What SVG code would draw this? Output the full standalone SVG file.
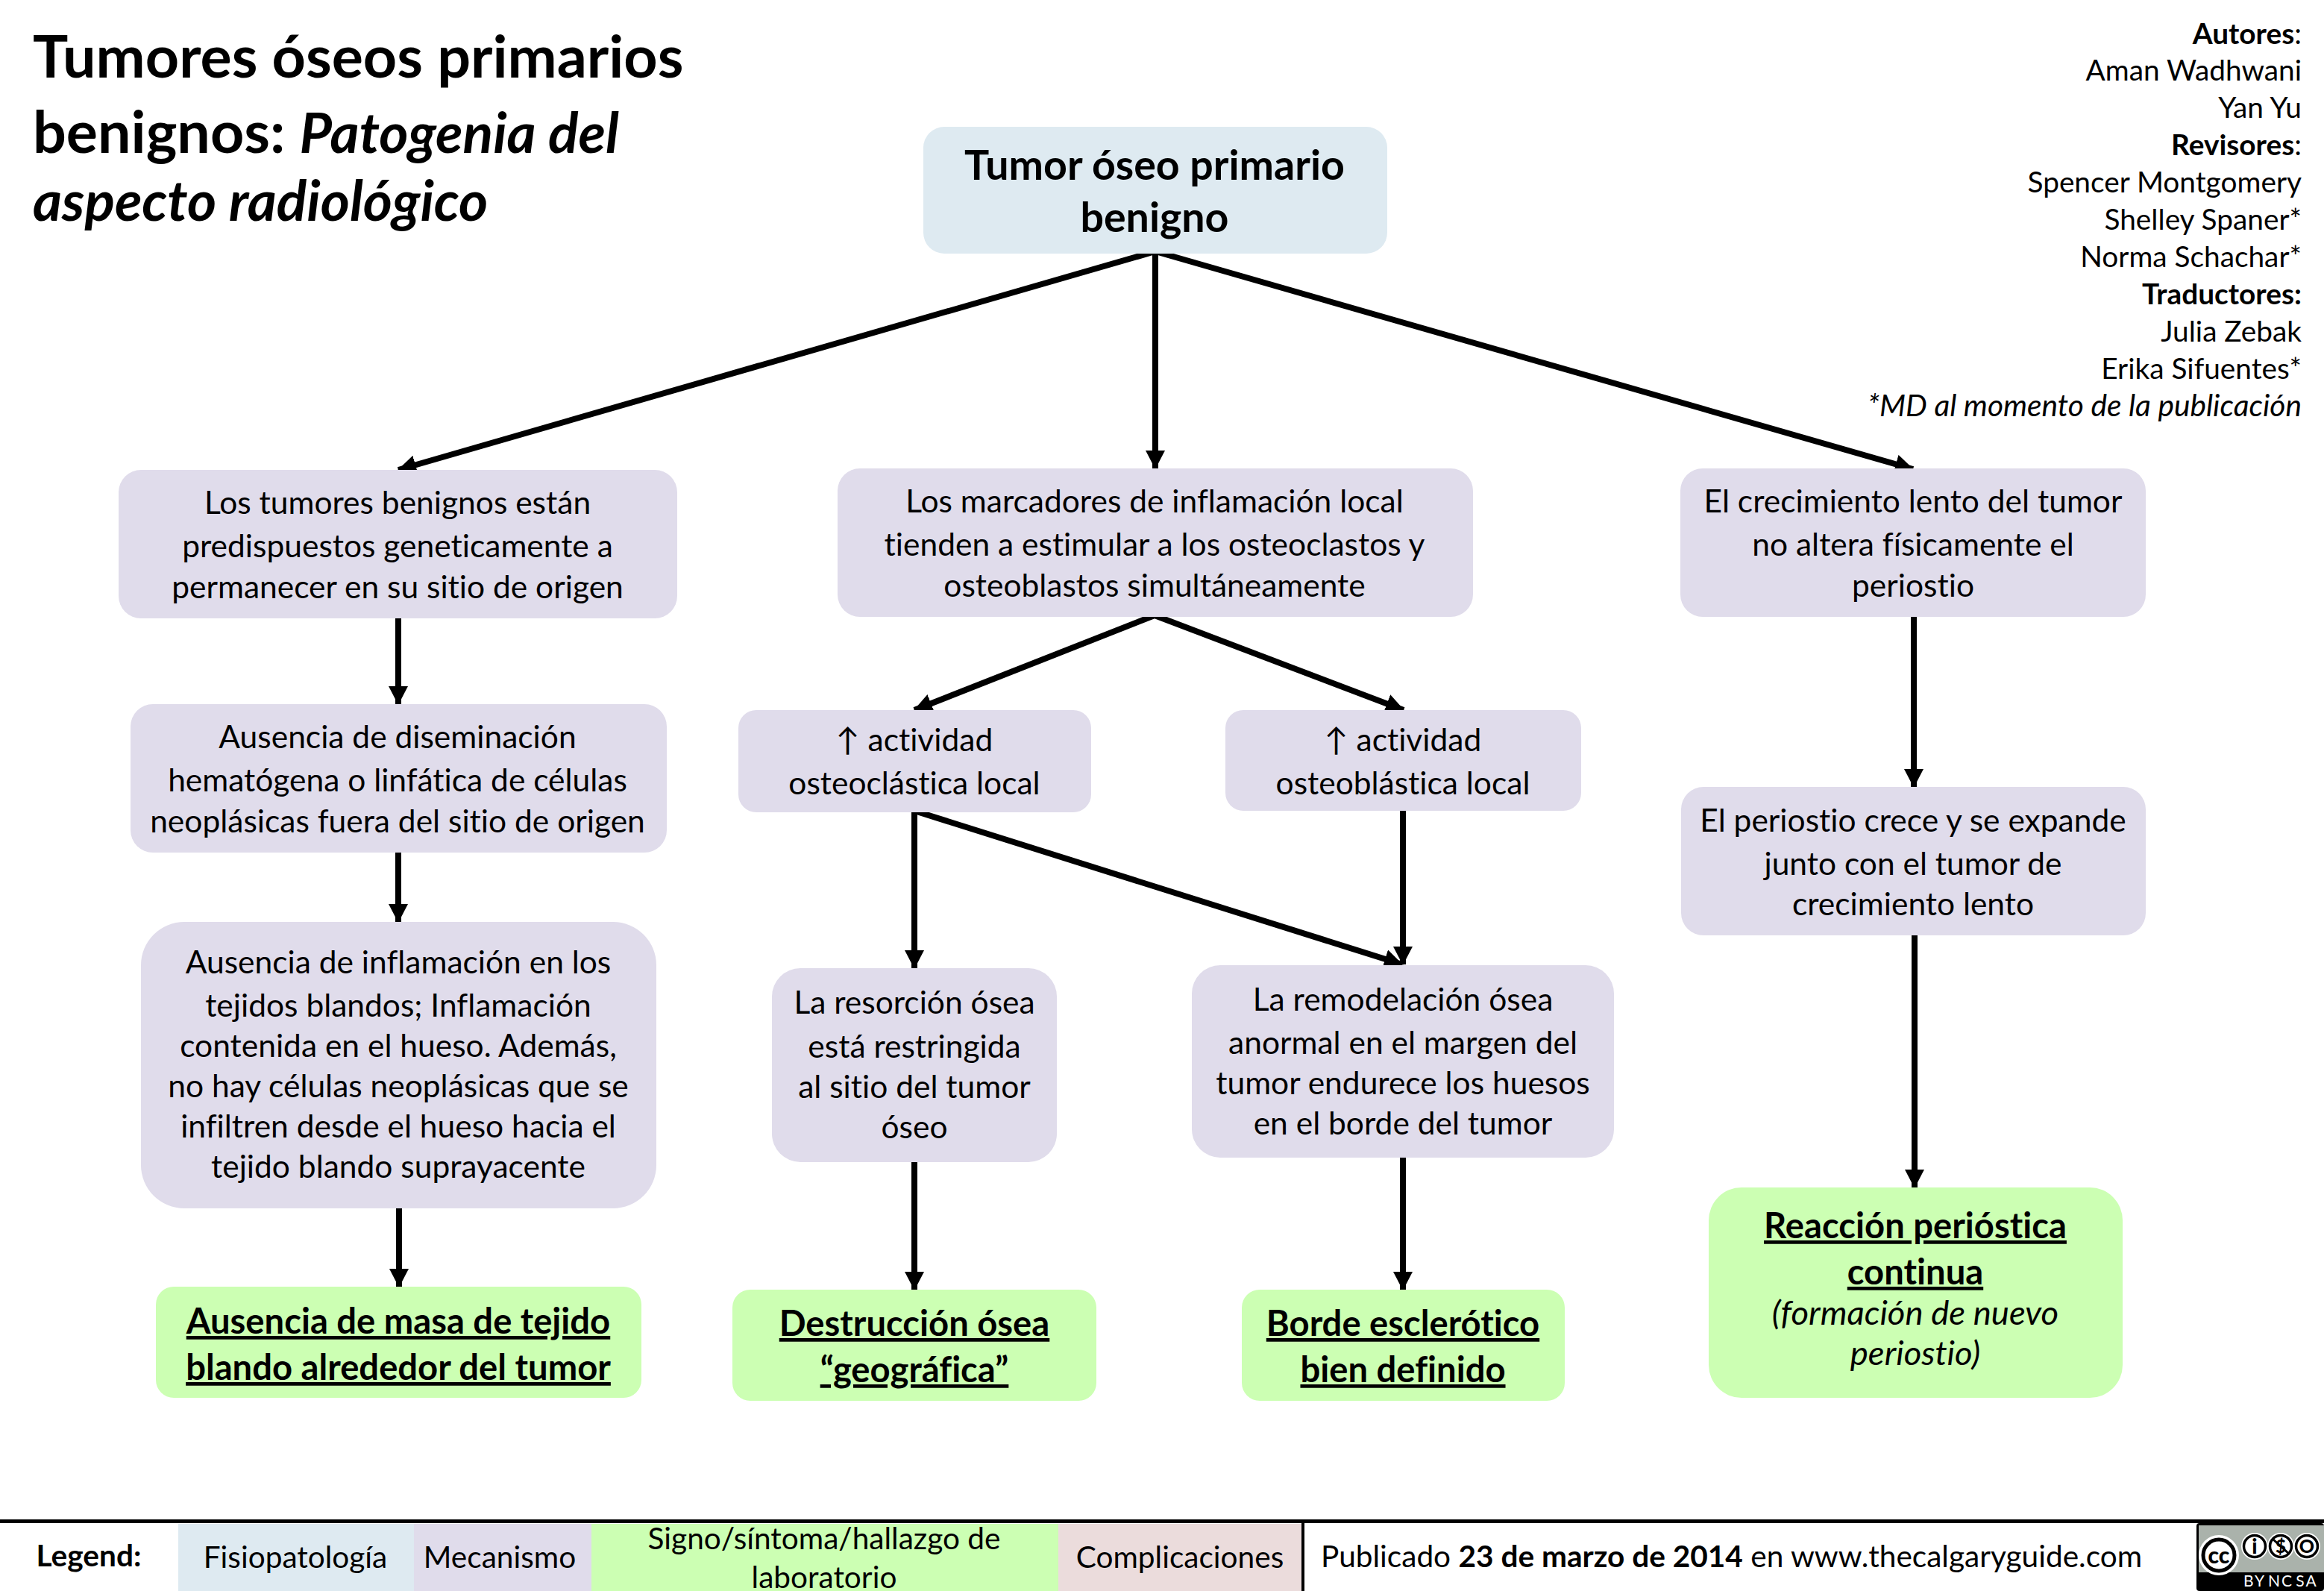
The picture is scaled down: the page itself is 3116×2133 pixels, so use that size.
<svg xmlns="http://www.w3.org/2000/svg" width="3116" height="2133" viewBox="0 0 3116 2133">
<style>
text{font-family:"Lato","Noto Sans",sans-serif;fill:#000;text-anchor:middle;font-size:42.5px;font-variant-ligatures:none}
.b{font-weight:700}.i{font-style:italic}.u{text-decoration:underline}
.h{font-size:55.5px;font-weight:700}.g{font-size:47.2px;font-weight:700;text-decoration:underline}
.a{text-anchor:end;font-size:38.8px}.s{text-anchor:start}
.t1{font-size:79px}.t2{font-size:75px}.it{font-size:40.7px}.gi{font-size:45.5px}.lg{font-size:40.6px}
.blue{fill:#deeaf1}.pur{fill:#e0dceb}.grn{fill:#ccffb3}.pnk{fill:#ebdcdc}
.c{fill:none;stroke:#000;stroke-width:8}
.bw{font-size:21px;fill:#fff;letter-spacing:2px}
</style>
<defs><marker id="ah" markerUnits="userSpaceOnUse" markerWidth="26" markerHeight="26" refX="24" refY="13" orient="auto"><path d="M0 0L25 13L0 26Z"/></marker></defs>
<rect width="3116" height="2133" fill="#fff"/>
<g id="title">
<text class="s b t1" x="44" y="104">Tumores óseos primarios</text>
<text class="s b t1" x="44" y="205">benignos: <tspan class="i t2">Patogenia del</tspan></text>
<text class="s b i t2" x="44" y="296">aspecto radiológico</text>
</g>
<g id="authors">
<text class="a" x="3086" y="59"><tspan class="b">Autores</tspan>:</text>
<text class="a" x="3086" y="108">Aman Wadhwani</text>
<text class="a" x="3086" y="158">Yan Yu</text>
<text class="a" x="3086" y="208"><tspan class="b">Revisores</tspan>:</text>
<text class="a" x="3086" y="258">Spencer Montgomery</text>
<text class="a" x="3086" y="308">Shelley Spaner*</text>
<text class="a" x="3086" y="358">Norma Schachar*</text>
<text class="a b" x="3086" y="408">Traductores:</text>
<text class="a" x="3086" y="458">Julia Zebak</text>
<text class="a" x="3086" y="508">Erika Sifuentes*</text>
<text class="a i it" x="3086" y="558">*MD al momento de la publicación</text>
</g>
<g id="connectors">
<path class="c" marker-end="url(#ah)" d="M1549 337L534 630"/>
<path class="c" marker-end="url(#ah)" d="M1549 337V628"/>
<path class="c" marker-end="url(#ah)" d="M1549 337L2565 629"/>
<path class="c" marker-end="url(#ah)" d="M534 829V944"/>
<path class="c" marker-end="url(#ah)" d="M534 1143V1236"/>
<path class="c" marker-end="url(#ah)" d="M535 1620V1725"/>
<path class="c" marker-end="url(#ah)" d="M1548 825L1226 952"/>
<path class="c" marker-end="url(#ah)" d="M1548 825L1882 952"/>
<path class="c" marker-end="url(#ah)" d="M1226 1087V1298"/>
<path class="c" marker-end="url(#ah)" d="M1226 1087L1880 1293"/>
<path class="c" marker-end="url(#ah)" d="M1881 1087V1293"/>
<path class="c" marker-end="url(#ah)" d="M1226 1558V1729"/>
<path class="c" marker-end="url(#ah)" d="M1881 1552V1729"/>
<path class="c" marker-end="url(#ah)" d="M2566 827V1055"/>
<path class="c" marker-end="url(#ah)" d="M2567 1254V1592"/>
</g>
<g id="n0"><rect class="blue" x="1238" y="170" width="622" height="170" rx="28"/>
<text class="h" x="1548" y="241">Tumor óseo primario</text><text class="h" x="1548" y="311">benigno</text></g>
<g id="l1"><rect class="pur" x="159" y="630" width="749" height="199" rx="30"/>
<text x="533" y="689">Los tumores benignos están</text><text x="533" y="747">predispuestos geneticamente a</text><text x="533" y="802">permanecer en su sitio de origen</text></g>
<g id="l2"><rect class="pur" x="175" y="944" width="719" height="199" rx="30"/>
<text x="533" y="1003">Ausencia de diseminación</text><text x="533" y="1061">hematógena o linfática de células</text><text x="533" y="1116">neoplásicas fuera del sitio de origen</text></g>
<g id="l3"><rect class="pur" x="189" y="1236" width="691" height="384" rx="58"/>
<text x="534" y="1305">Ausencia de inflamación en los</text><text x="534" y="1363">tejidos blandos; Inflamación</text><text x="534" y="1417">contenida en el hueso. Además,</text><text x="534" y="1471">no hay células neoplásicas que se</text><text x="534" y="1525">infiltren desde el hueso hacia el</text><text x="534" y="1579">tejido blando suprayacente</text></g>
<g id="l4"><rect class="grn" x="209" y="1725" width="651" height="149" rx="24"/>
<text class="g" x="534" y="1788">Ausencia de masa de tejido</text><text class="g" x="534" y="1850">blando alrededor del tumor</text></g>
<g id="m1"><rect class="pur" x="1123" y="628" width="852" height="199" rx="30"/>
<text x="1548" y="687">Los marcadores de inflamación local</text><text x="1548" y="745">tienden a estimular a los osteoclastos y</text><text x="1548" y="800">osteoblastos simultáneamente</text></g>
<g id="m2"><rect class="pur" x="990" y="952" width="473" height="137" rx="24"/>
<text x="1226" y="1007">↑ actividad</text><text x="1226" y="1065">osteoclástica local</text></g>
<g id="m3"><rect class="pur" x="1643" y="952" width="477" height="135" rx="24"/>
<text x="1881" y="1007">↑ actividad</text><text x="1881" y="1065">osteoblástica local</text></g>
<g id="m4"><rect class="pur" x="1035" y="1298" width="382" height="260" rx="38"/>
<text x="1226" y="1359">La resorción ósea</text><text x="1226" y="1418">está restringida</text><text x="1226" y="1472">al sitio del tumor</text><text x="1226" y="1526">óseo</text></g>
<g id="m5"><rect class="pur" x="1598" y="1294" width="566" height="258" rx="38"/>
<text x="1881" y="1355">La remodelación ósea</text><text x="1881" y="1413">anormal en el margen del</text><text x="1881" y="1467">tumor endurece los huesos</text><text x="1881" y="1521">en el borde del tumor</text></g>
<g id="m6"><rect class="grn" x="982" y="1729" width="488" height="149" rx="24"/>
<text class="g" x="1226" y="1791">Destrucción ósea</text><text class="g" x="1226" y="1853">“geográfica”</text></g>
<g id="m7"><rect class="grn" x="1665" y="1729" width="433" height="149" rx="24"/>
<text class="g" x="1881" y="1791">Borde esclerótico</text><text class="g" x="1881" y="1853">bien definido</text></g>
<g id="r1"><rect class="pur" x="2253" y="628" width="624" height="199" rx="30"/>
<text x="2565" y="687">El crecimiento lento del tumor</text><text x="2565" y="745">no altera físicamente el</text><text x="2565" y="800">periostio</text></g>
<g id="r2"><rect class="pur" x="2254" y="1055" width="623" height="199" rx="30"/>
<text x="2565" y="1115">El periostio crece y se expande</text><text x="2565" y="1173">junto con el tumor de</text><text x="2565" y="1227">crecimiento lento</text></g>
<g id="r3"><rect class="grn" x="2291" y="1592" width="555" height="282" rx="44"/>
<text class="g" x="2568" y="1660">Reacción perióstica</text><text class="g" x="2568" y="1722">continua</text><text class="i gi" x="2568" y="1776">(formación de nuevo</text><text class="i gi" x="2568" y="1830">periostio)</text></g>
<g id="legend">
<rect class="blue" x="239" y="2043" width="316" height="90"/>
<rect class="pur" x="555" y="2043" width="238" height="90"/>
<rect class="grn" x="793" y="2043" width="626" height="90"/>
<rect class="pnk" x="1419" y="2043" width="327" height="90"/>
<rect x="0" y="2037" width="3116" height="5"/>
<rect x="1745" y="2040" width="4" height="93"/>
<text class="b lg" x="119" y="2100">Legend:</text>
<text class="lg" x="396" y="2102">Fisiopatología</text>
<text class="lg" x="670" y="2102">Mecanismo</text>
<text class="lg" x="1105" y="2077">Signo/síntoma/hallazgo de</text>
<text class="lg" x="1105" y="2129">laboratorio</text>
<text class="lg" x="1582" y="2102">Complicaciones</text>
<text class="s lg" x="1771" y="2101">Publicado <tspan class="b">23 de marzo de 2014</tspan> en www.thecalgaryguide.com</text>
</g>
<g id="cc">
<rect x="2945" y="2042" width="171" height="91" rx="4" fill="#000"/>
<rect x="2948" y="2045" width="168" height="63" fill="#aab2ab"/>
<circle cx="2975" cy="2085" r="27" fill="#fff"/>
<circle cx="2975" cy="2085" r="21" fill="#fff" stroke="#000" stroke-width="5"/>
<text x="2975" y="2096" style="font-size:30px;font-weight:900">cc</text>
<circle cx="3023" cy="2073" r="18" fill="#fff"/><circle cx="3023" cy="2073" r="14.5" fill="#fff" stroke="#000" stroke-width="3.5"/>
<circle cx="3058" cy="2073" r="18" fill="#fff"/><circle cx="3058" cy="2073" r="14.5" fill="#fff" stroke="#000" stroke-width="3.5"/>
<circle cx="3093" cy="2073" r="18" fill="#fff"/><circle cx="3093" cy="2073" r="14.5" fill="#fff" stroke="#000" stroke-width="3.5"/>
<text x="3023" y="2083" style="font-size:28px;font-weight:900">i</text>
<text x="3058" y="2082" style="font-size:24px;font-weight:900">$</text>
<path d="M3047 2063L3069 2083" fill="none" stroke="#000" stroke-width="3"/>
<text x="3093" y="2082" style="font-size:25px;font-weight:900">O</text>
<text class="bw" x="3023" y="2127">BY</text>
<text class="bw" x="3058" y="2127">NC</text>
<text class="bw" x="3093" y="2127">SA</text>
</g>
</svg>
